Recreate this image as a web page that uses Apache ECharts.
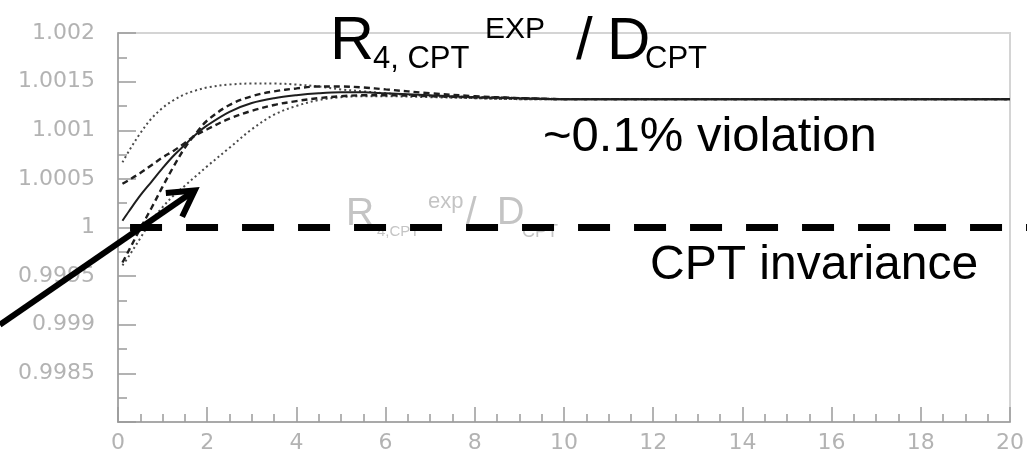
<!DOCTYPE html>
<html><head><meta charset="utf-8">
<script src="https://cdn.jsdelivr.net/npm/echarts@6/dist/echarts.min.js"></script>
<style>html,body{margin:0;padding:0;background:#fff}#c{width:1027px;height:454px}</style>
</head><body><div id="c"></div>
<script>
// ---- data ----
const xs = [0.1,0.25,0.5,0.75,1,1.25,1.5,1.75,2,2.5,3,3.5,4,4.5,5,5.5,6,7,8,9,10,12,14,16,18,20];
const central     = [1.00007,1.00017,1.00033,1.00047,1.00061,1.00074,1.00085,1.00096,1.00105,1.00119,1.00128,1.00133,1.00136,1.00138,1.00139,1.00139,1.00138,1.00136,1.00134,1.00133,1.00132,1.00132,1.00132,1.00132,1.00132,1.00132];
const dashSteep   = [0.99964,0.99977,0.99999,1.00020,1.00042,1.00063,1.00082,1.00097,1.00110,1.00126,1.00135,1.00140,1.00143,1.00145,1.00145,1.00144,1.00142,1.00138,1.00135,1.00133,1.00132,1.00132,1.00132,1.00132,1.00132,1.00132];
const dashShallow = [1.00045,1.00049,1.00056,1.00064,1.00072,1.00079,1.00087,1.00095,1.00101,1.00112,1.00120,1.00126,1.00130,1.00133,1.00135,1.00136,1.00136,1.00135,1.00134,1.00133,1.00132,1.00132,1.00132,1.00132,1.00132,1.00132];
const dotUpper    = [1.00067,1.00079,1.00097,1.00112,1.00123,1.00131,1.00137,1.00141,1.00144,1.00147,1.00148,1.00148,1.00147,1.00145,1.00142,1.00140,1.00138,1.00135,1.00133,1.00132,1.00132,1.00132,1.00132,1.00132,1.00132,1.00132];
const dotLower    = [0.99961,0.99971,0.99989,1.00007,1.00021,1.00033,1.00043,1.00053,1.00063,1.00082,1.00101,1.00116,1.00125,1.00131,1.00134,1.00135,1.00135,1.00134,1.00133,1.00132,1.00132,1.00132,1.00132,1.00132,1.00132,1.00132];
const xTickLabels = ['0','2','4','6','8','10','12','14','16','18','20'];
const yTickLabels = ['','0.9985','0.999','0.9995','1','1.0005','1.001','1.0015','1.002'];
const cptLevel = 1;            // CPT invariance reference
const cptLineStartX = 0.27;
const arrowTail = [-2.65, 0.999];
const arrowTip  = [1.72, 1.00038];

// ---- chart ----
const X_MIN = 0, X_MAX = 20, X_STEP = 2;
const Y_MIN = 0.998, Y_MAX = 1.002, Y_STEP = 0.0005;
const FONT = 'Liberation Sans, Arial, Helvetica, sans-serif';
const AXFONT = 'DejaVu Sans, sans-serif';
const axisGray = '#9a9a9a', labelGray = '#b3b3b3';
function pairs(arr){ return xs.map((x,i)=>[x,arr[i]]); }

const chart = echarts.init(document.getElementById('c'));
const curve = (data, color, width, type, z) => ({
  type:'line', data:pairs(data), smooth:0.35, showSymbol:false, silent:true, z:z,
  lineStyle:{color:color, width:width, type:type}
});
chart.setOption({
  animation:false,
  backgroundColor:'#fff',
  grid:{left:118, right:14, top:33, bottom:28, show:true, borderColor:'#d4d4d4', borderWidth:2},
  xAxis:{type:'value', min:X_MIN, max:X_MAX, interval:X_STEP,
    axisLine:{show:true, onZero:false, lineStyle:{color:axisGray, width:1.5}},
    axisTick:{show:true, inside:true, length:15, lineStyle:{color:axisGray, width:1.5}},
    minorTick:{show:true, splitNumber:4, length:8, lineStyle:{color:axisGray, width:1.5}},
    splitLine:{show:false},
    axisLabel:{color:labelGray, fontSize:22, fontFamily:AXFONT, margin:10,
      formatter:v=>xTickLabels[Math.round((v-X_MIN)/X_STEP)]}},
  yAxis:{type:'value', min:Y_MIN, max:Y_MAX, interval:Y_STEP,
    axisLine:{show:true, onZero:false, lineStyle:{color:axisGray, width:1.5}},
    axisTick:{show:true, inside:true, length:18, lineStyle:{color:axisGray, width:1.5}},
    minorTick:{show:true, splitNumber:2, length:9, lineStyle:{color:axisGray, width:1.5}},
    splitLine:{show:false},
    axisLabel:{color:labelGray, fontSize:22, fontFamily:AXFONT, margin:23,
      formatter:v=>yTickLabels[Math.round((v-Y_MIN)/Y_STEP)]}},
  series:[
    curve(dotUpper, '#4a4a4a', 2, [2,3], 2),
    curve(dotLower, '#4a4a4a', 2, [2,3], 2),
    curve(dashSteep, '#1e1e1e', 2.4, [6,4], 3),
    curve(dashShallow, '#1e1e1e', 2.4, [6,4], 3),
    curve(central, '#1e1e1e', 2, 'solid', 4)
  ]
});

// ---- annotations ----
const toPx = d => chart.convertToPixel({gridIndex:0}, d);
const t = (text, x, y, size, fill, z) => ({
  type:'text', x:x, y:y, z:z||10, silent:true,
  style:{text:text, fontSize:size, fontFamily:FONT, fill:fill,
    align:'left', verticalAlign:'middle', textAlign:'left', textVerticalAlign:'middle'}
});
const lineStart = toPx([cptLineStartX, cptLevel]);
const tail = toPx(arrowTail), tip = toPx(arrowTip);
const ang = Math.atan2(tail[1]-tip[1], tail[0]-tip[0]);
const HL = 29, HA = 0.52;
const h1 = [tip[0]+HL*Math.cos(ang+HA), tip[1]+HL*Math.sin(ang+HA)];
const h2 = [tip[0]+HL*Math.cos(ang-HA), tip[1]+HL*Math.sin(ang-HA)];
const faint = '#c4c4c4';
chart.setOption({graphic:[
  // faint inner title
  t('R', 346, 214, 39, faint, 5),
  t('4,CPT', 377, 232, 15, faint, 5),
  t('exp', 428, 202, 22, faint, 5),
  t('/', 466, 214, 38, faint, 5),
  t('D', 497, 214, 38, faint, 5),
  t('CPT', 522, 232, 18, faint, 5),
  // CPT invariance dashed line
  {type:'line', z:20, silent:true, shape:{x1:lineStart[0], y1:lineStart[1], x2:1045, y2:lineStart[1]},
    style:{stroke:'#000', lineWidth:7, lineDash:[32,24]}},
  // arrow
  {type:'line', z:21, silent:true, shape:{x1:tail[0], y1:tail[1], x2:tip[0], y2:tip[1]},
    style:{stroke:'#000', lineWidth:6}},
  {type:'polyline', z:21, silent:true, shape:{points:[h1, tip, h2]},
    style:{stroke:'#000', lineWidth:6, fill:null, lineJoin:'miter'}},
  // title
  t('R', 330, 42, 61, '#000', 30),
  t('4, CPT', 373, 59, 31, '#000', 30),
  t('EXP', 485, 30, 30, '#000', 30),
  t('/', 576, 42, 60, '#000', 30),
  t('D', 607, 42, 60, '#000', 30),
  t('CPT', 645, 59, 31, '#000', 30),
  // labels
  t('~0.1% violation', 543, 137, 49, '#000', 30),
  t('CPT invariance', 650, 266, 48, '#000', 30)
]});
</script></body></html>
